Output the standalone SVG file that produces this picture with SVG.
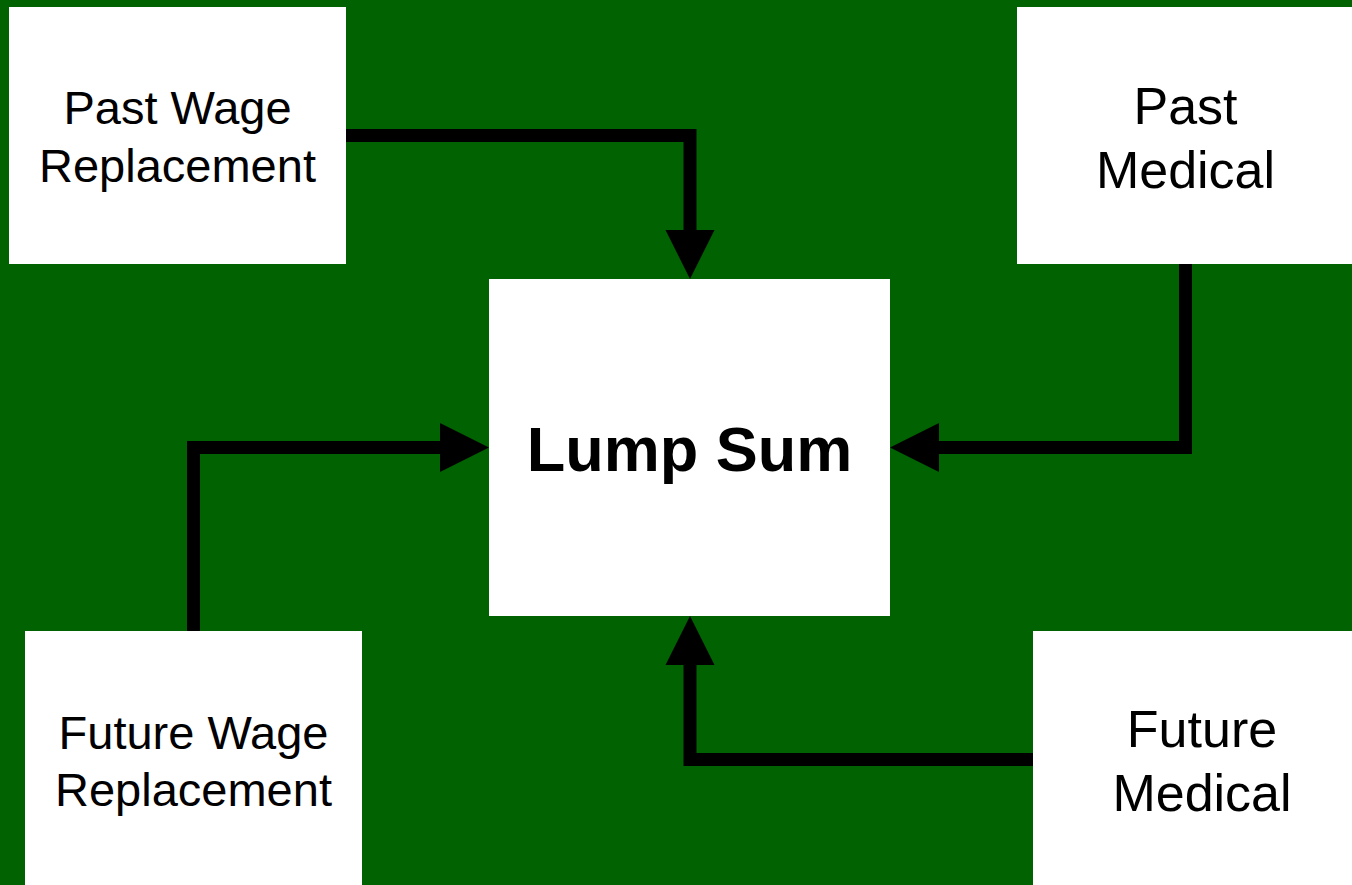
<svg xmlns="http://www.w3.org/2000/svg" width="1352" height="885" viewBox="0 0 1352 885">
<style>
.box{fill:#ffffff;stroke:none}
.lbl{font-family:"Liberation Sans",Arial,sans-serif;fill:#000000;text-anchor:middle}
.sm{font-size:47px}
.md{font-size:52px}
.big{font-size:63px;font-weight:bold}
.conn{fill:none;stroke:#000000;stroke-width:13;stroke-linejoin:miter;stroke-linecap:butt}
.head{fill:#000000;stroke:none}
</style>
<rect x="0" y="0" width="1352" height="885" fill="#006200"/>
<g id="node-past-wage">
<rect class="box" x="9" y="7" width="337" height="257"/>
<text class="lbl sm" x="177.5" y="124">Past Wage</text>
<text class="lbl sm" x="177.5" y="182">Replacement</text>
</g>
<g id="node-past-medical">
<rect class="box" x="1017" y="7" width="335" height="257"/>
<text class="lbl md" x="1185.5" y="124">Past</text>
<text class="lbl md" x="1185.5" y="188">Medical</text>
</g>
<g id="node-lump-sum">
<rect class="box" x="489" y="279" width="401" height="337"/>
<text class="lbl big" x="689.5" y="471">Lump Sum</text>
</g>
<g id="node-future-wage">
<rect class="box" x="25" y="631" width="337" height="254"/>
<text class="lbl sm" x="193.5" y="749">Future Wage</text>
<text class="lbl sm" x="193.5" y="806">Replacement</text>
</g>
<g id="node-future-medical">
<rect class="box" x="1033" y="631" width="319" height="254"/>
<text class="lbl md" x="1202" y="747">Future</text>
<text class="lbl md" x="1202" y="811">Medical</text>
</g>
<g id="connectors">
<polyline class="conn" points="346,135.5 690,135.5 690,231"/>
<polygon class="head" points="665.5,230 714.5,230 690,279"/>
<polyline class="conn" points="1185.5,264 1185.5,447.5 938,447.5"/>
<polygon class="head" points="939,423 939,472 890,447.5"/>
<polyline class="conn" points="193.5,631 193.5,447.5 441,447.5"/>
<polygon class="head" points="440,423 440,472 489,447.5"/>
<polyline class="conn" points="1033,759.5 690,759.5 690,664"/>
<polygon class="head" points="665.5,665 714.5,665 690,616"/>
</g>
</svg>
